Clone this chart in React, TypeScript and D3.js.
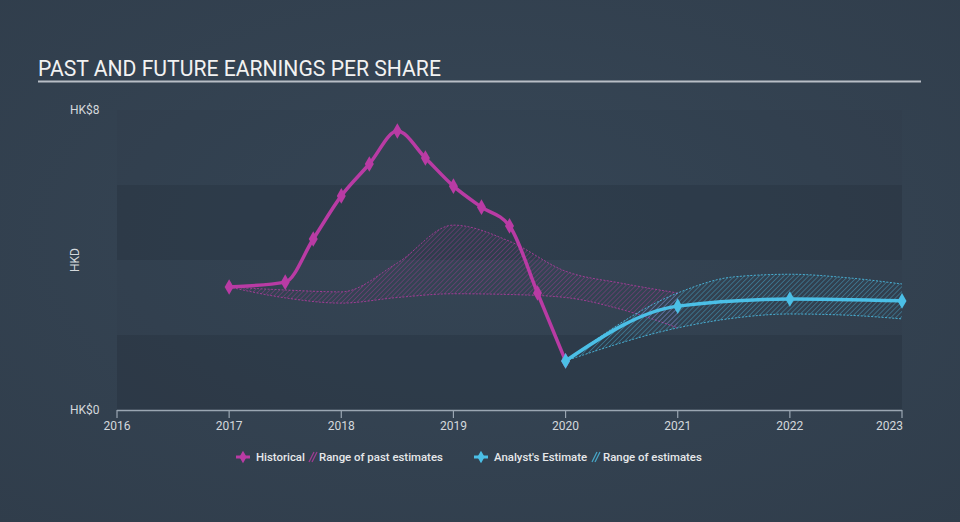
import React from "react";
import * as d3 from "d3";

const W = 960;
const H = 522;

const histYears = [2017, 2017.5, 2017.75, 2018, 2018.25, 2018.5, 2018.75, 2019, 2019.25, 2019.5, 2019.75, 2020];
const histEPS = [3.28, 3.41, 4.56, 5.71, 6.56, 7.44, 6.72, 5.97, 5.41, 4.91, 3.12, 1.31];

const pastRangeYears = [2017, 2017.5, 2018, 2018.5, 2019, 2019.5, 2020, 2020.5, 2021];
const pastRangeHigh = [3.28, 3.2, 3.15, 3.92, 4.93, 4.5, 3.7, 3.38, 3.12];
const pastRangeLow = [3.28, 2.99, 2.85, 3.0, 3.1, 3.08, 3.0, 2.68, 2.19];

const estYears = [2020, 2021, 2022, 2023];
const estEPS = [1.31, 2.77, 2.96, 2.91];

const estRangeYears = [2020, 2021, 2021.5, 2022, 2022.5, 2023];
const estRangeHigh = [1.31, 3.12, 3.55, 3.62, 3.53, 3.36];
const estRangeLow = [1.31, 2.19, 2.45, 2.56, 2.53, 2.43];

const xTicks = [2016, 2017, 2018, 2019, 2020, 2021, 2022, 2023];
const yTickLabels = ["HK$0", "HK$8"];
const yTickValues = [0, 8];

const PINK = "#b93ba4";
const BLUE = "#4bbfe6";
const FONT = "Roboto, 'Open Sans', sans-serif";

export default function App() {
  const x = d3.scaleLinear().domain([2016, 2023]).range([117, 902]);
  const y = d3.scaleLinear().domain([0, 8]).range([410, 110]);

  const line = d3
    .line<[number, number]>()
    .x((d) => x(d[0]))
    .y((d) => y(d[1]))
    .curve(d3.curveMonotoneX);

  const area = d3
    .area<[number, number, number]>()
    .x((d) => x(d[0]))
    .y0((d) => y(d[2]))
    .y1((d) => y(d[1]))
    .curve(d3.curveMonotoneX);

  const histPts = histYears.map((yr, i) => [yr, histEPS[i]] as [number, number]);
  const estPts = estYears.map((yr, i) => [yr, estEPS[i]] as [number, number]);
  const pastRange = pastRangeYears.map((yr, i) => [yr, pastRangeHigh[i], pastRangeLow[i]] as [number, number, number]);
  const estRange = estRangeYears.map((yr, i) => [yr, estRangeHigh[i], estRangeLow[i]] as [number, number, number]);

  const pastHighLine = line(pastRange.map((d) => [d[0], d[1]] as [number, number]));
  const pastLowLine = line(pastRange.map((d) => [d[0], d[2]] as [number, number]));
  const estHighLine = line(estRange.map((d) => [d[0], d[1]] as [number, number]));
  const estLowLine = line(estRange.map((d) => [d[0], d[2]] as [number, number]));

  const diamond = d3.symbol().type(d3.symbolDiamond).size(70)();
  const [x0, x1] = x.range();
  const bands = [
    [0, 2],
    [4, 6],
  ];

  return (
    <svg width={W} height={H} style={{ position: "absolute", left: 0, top: 0 }}>
      <defs>
        <radialGradient id="bg" cx="50%" cy="45%" r="75%">
          <stop offset="0%" stopColor="#374757" />
          <stop offset="100%" stopColor="#303d4b" />
        </radialGradient>
        <pattern id="hatchPink" width="3.5" height="3.5" patternUnits="userSpaceOnUse" patternTransform="rotate(45)">
          <line x1="0" y1="0" x2="0" y2="3.5" stroke={PINK} strokeWidth="1.1" strokeOpacity="0.6" />
        </pattern>
        <pattern id="hatchBlue" width="3.5" height="3.5" patternUnits="userSpaceOnUse" patternTransform="rotate(45)">
          <line x1="0" y1="0" x2="0" y2="3.5" stroke={BLUE} strokeWidth="1.1" strokeOpacity="0.65" />
        </pattern>
      </defs>
      <rect x={0} y={0} width={W} height={H} fill="url(#bg)" />

      {/* Title */}
      <text x={38} y={76} fill="#f2f2f2" fontFamily={FONT} fontSize={21.15}>
        PAST AND FUTURE EARNINGS PER SHARE
      </text>
      <line x1={38} x2={921} y1={81.5} y2={81.5} stroke="#b8bec6" strokeWidth={2} />

      {/* Plot bands */}
      <rect x={x0} y={y(8)} width={x1 - x0} height={y(0) - y(8)} fill="#000" fillOpacity={0.02} />
      {bands.map(([a, b], i) => (
        <rect key={i} x={x0} y={y(b)} width={x1 - x0} height={y(a) - y(b)} fill="#1f2a36" fillOpacity={0.26} />
      ))}

      {/* Y labels */}
      {yTickValues.map((v, i) => (
        <text key={v} x={70} y={y(v) + 4} fill="#d4d8dc" fontFamily={FONT} fontSize={12}>
          {yTickLabels[i]}
        </text>
      ))}
      <text
        transform={`translate(79,${(y(0) + y(8)) / 2}) rotate(-90)`}
        textAnchor="middle"
        fill="#d4d8dc"
        fontFamily={FONT}
        fontSize={12}
      >
        HKD
      </text>

      {/* X axis */}
      <line x1={x0} x2={x1} y1={410.5} y2={410.5} stroke="#9aa6b2" strokeWidth={1.3} />
      {xTicks.map((t) => (
        <g key={t}>
          <line x1={x(t)} x2={x(t)} y1={410} y2={418} stroke="#9aa6b2" strokeWidth={1.2} />
          <text
            x={t === 2023 ? x(t) + 1 : x(t)}
            y={430}
            textAnchor={t === 2023 ? "end" : "middle"}
            fill="#d4d8dc"
            fontFamily={FONT}
            fontSize={12}
          >
            {t}
          </text>
        </g>
      ))}

      {/* Past estimate range */}
      <path d={area(pastRange) || ""} fill="url(#hatchPink)" />
      <path d={pastHighLine || ""} fill="none" stroke={PINK} strokeWidth={1} strokeDasharray="2,1.5" strokeOpacity={0.8} />
      <path d={pastLowLine || ""} fill="none" stroke={PINK} strokeWidth={1} strokeDasharray="2,1.5" strokeOpacity={0.8} />

      {/* Future estimate range */}
      <path d={area(estRange) || ""} fill="url(#hatchBlue)" />
      <path d={estHighLine || ""} fill="none" stroke={BLUE} strokeWidth={1} strokeDasharray="2,1.5" strokeOpacity={0.85} />
      <path d={estLowLine || ""} fill="none" stroke={BLUE} strokeWidth={1} strokeDasharray="2,1.5" strokeOpacity={0.85} />

      {/* Historical */}
      <path d={line(histPts) || ""} fill="none" stroke={PINK} strokeWidth={3.5} />
      {histPts.map((d, i) => (
        <path key={i} d={diamond || ""} transform={`translate(${x(d[0])},${y(d[1])})`} fill={PINK} />
      ))}

      {/* Analyst estimate */}
      <path d={line(estPts) || ""} fill="none" stroke={BLUE} strokeWidth={3.5} />
      {estPts.map((d, i) => (
        <path key={i} d={diamond || ""} transform={`translate(${x(d[0])},${y(d[1])})`} fill={BLUE} />
      ))}

      {/* Legend */}
      <g fontFamily={FONT} fontSize={11.4} fill="#e6e8ea" fontWeight={500}>
        <line x1={236} x2={250} y1={457} y2={457} stroke={PINK} strokeWidth={3} />
        <path d={diamond || ""} transform="translate(243,457) scale(0.8)" fill={PINK} />
        <text x={256} y={461}>Historical</text>
        <line x1={309} x2={314} y1={462} y2={452} stroke={PINK} strokeWidth={1.2} strokeOpacity={0.8} />
        <line x1={312} x2={317} y1={462} y2={452} stroke={PINK} strokeWidth={1.2} strokeOpacity={0.8} />
        <text x={319} y={461}>Range of past estimates</text>

        <line x1={474} x2={488} y1={457} y2={457} stroke={BLUE} strokeWidth={3} />
        <path d={diamond || ""} transform="translate(481,457) scale(0.8)" fill={BLUE} />
        <text x={494} y={461}>Analyst's Estimate</text>
        <line x1={592} x2={597} y1={462} y2={452} stroke={BLUE} strokeWidth={1.2} strokeOpacity={0.8} />
        <line x1={595} x2={600} y1={462} y2={452} stroke={BLUE} strokeWidth={1.2} strokeOpacity={0.8} />
        <text x={603} y={461}>Range of estimates</text>
      </g>
    </svg>
  );
}
